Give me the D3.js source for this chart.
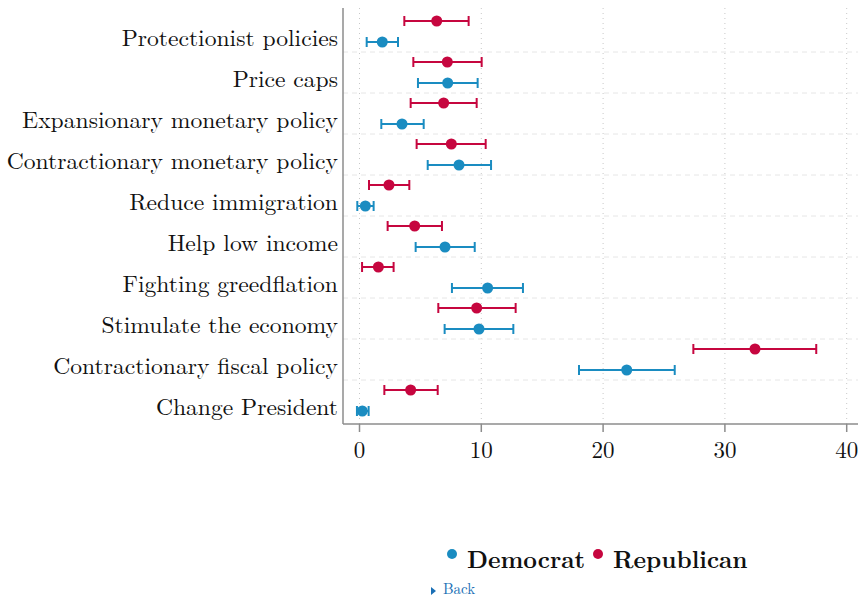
<!DOCTYPE html>
<html>
<head>
<meta charset="utf-8">
<script src="https://cdn.jsdelivr.net/npm/d3@7"></script>
<style>
  body { margin: 0; background: #fff; }
  svg { display: block; }
</style>
</head>
<body>
<div id="chart"></div>
<script>
const categories = [
    "Protectionist policies", "Price caps", "Expansionary monetary policy",
    "Contractionary monetary policy", "Reduce immigration", "Help low income",
    "Fighting greedflation", "Stimulate the economy", "Contractionary fiscal policy",
    "Change President"
];
// estimate, lower CI, upper CI
const demEst = [1.87, 7.24, 3.49, 8.17, 0.48, 7.02, 10.52, 9.81, 21.94, 0.23];
const demLo  = [0.59, 4.80, 1.79, 5.60, -0.18, 4.61, 7.59, 6.99, 18.02, -0.21];
const demHi  = [3.16, 9.70, 5.27, 10.80, 1.16, 9.46, 13.42, 12.63, 25.88, 0.75];
const repEst = [6.34, 7.21, 6.91, 7.54, 2.42, 4.53, 1.55, 9.62, 32.47, 4.20];
const repLo  = [3.68, 4.42, 4.20, 4.69, 0.78, 2.31, 0.21, 6.47, 27.41, 2.04];
const repHi  = [8.96, 10.03, 9.62, 10.36, 4.09, 6.77, 2.80, 12.82, 37.50, 6.42];
const xTicks = [0, 10, 20, 30, 40];
const seriesNames = ["Democrat", "Republican"];

const W = 861, H = 599;
const blue = "#1a8cc1", red = "#c6063f";
const serif = "'Latin Modern Roman', 'CMU Serif', 'Liberation Serif', 'DejaVu Serif', serif";

const svg = d3.select("#chart").append("svg")
    .attr("width", W).attr("height", H);

const plotLeft = 343, plotRight = 858, plotTop = 8, plotBottom = 424;

const x = d3.scaleLinear().domain([0, 40]).range([359.5, 846.7]);
const y = d3.scaleBand().domain(categories).range([11, 421]);

// vertical dotted gridlines
svg.append("g").selectAll("line")
    .data(xTicks)
    .join("line")
    .attr("x1", d => x(d)).attr("x2", d => x(d))
    .attr("y1", plotTop).attr("y2", plotBottom)
    .attr("stroke", "#c8c8c8")
    .attr("stroke-width", 1)
    .attr("stroke-dasharray", "1,4");

// horizontal dashed separators
svg.append("g").selectAll("line")
    .data(categories.slice(0, -1))
    .join("line")
    .attr("x1", plotLeft).attr("x2", plotRight)
    .attr("y1", d => y(d) + y.bandwidth()).attr("y2", d => y(d) + y.bandwidth())
    .attr("stroke", "#e6e6e6")
    .attr("stroke-width", 1)
    .attr("stroke-dasharray", "5,4");

// axes lines
svg.append("line")
    .attr("x1", plotLeft).attr("x2", plotLeft)
    .attr("y1", plotTop).attr("y2", plotBottom)
    .attr("stroke", "#8c8c8c").attr("stroke-width", 1.5);
svg.append("line")
    .attr("x1", plotLeft).attr("x2", plotRight)
    .attr("y1", plotBottom).attr("y2", plotBottom)
    .attr("stroke", "#8c8c8c").attr("stroke-width", 1.5);

// x ticks
const xt = svg.append("g").selectAll("g")
    .data(xTicks)
    .join("g")
    .attr("transform", d => `translate(${x(d)},${plotBottom})`);
xt.append("line").attr("y1", 0).attr("y2", 8)
    .attr("stroke", "#8c8c8c").attr("stroke-width", 1.5);
xt.append("text")
    .attr("y", 34)
    .attr("text-anchor", "middle")
    .attr("font-family", serif)
    .attr("font-size", 23)
    .attr("fill", "#111")
    .text(d => d);

// y labels
svg.append("g").selectAll("text")
    .data(categories)
    .join("text")
    .attr("x", 338)
    .attr("y", d => y(d) + y.bandwidth() / 2 + 14)
    .attr("text-anchor", "end")
    .attr("font-family", serif)
    .attr("font-size", 23.6)
    .attr("fill", "#111")
    .text(d => d);

const series = [
    { name: "Republican", color: red, est: repEst, lo: repLo, hi: repHi, off: -10.5 },
    { name: "Democrat", color: blue, est: demEst, lo: demLo, hi: demHi, off: 10.5 }
];

series.forEach(s => {
    const g = svg.append("g");
    const rows = categories.map((c, i) => ({ c, est: s.est[i], lo: s.lo[i], hi: s.hi[i] }));
    const cy = d => y(d.c) + y.bandwidth() / 2 + s.off;
    g.selectAll(".ci").data(rows).join("line")
        .attr("x1", d => x(d.lo)).attr("x2", d => x(d.hi))
        .attr("y1", cy).attr("y2", cy)
        .attr("stroke", s.color).attr("stroke-width", 2);
    ["lo", "hi"].forEach(k => {
        g.selectAll(".cap-" + k).data(rows).join("line")
            .attr("x1", d => x(d[k])).attr("x2", d => x(d[k]))
            .attr("y1", d => cy(d) - 5).attr("y2", d => cy(d) + 5)
            .attr("stroke", s.color).attr("stroke-width", 2);
    });
    g.selectAll("circle").data(rows).join("circle")
        .attr("cx", d => x(d.est)).attr("cy", cy)
        .attr("r", 5.5)
        .attr("fill", s.color);
});

// legend
const legend = [
    { name: seriesNames[0], color: blue, x: 452 },
    { name: seriesNames[1], color: red, x: 598 }
];
const lg = svg.append("g").selectAll("g").data(legend).join("g")
    .attr("transform", d => `translate(${d.x},0)`);
lg.append("circle").attr("cx", 0).attr("cy", 554).attr("r", 5).attr("fill", d => d.color);
lg.append("text")
    .attr("x", 15).attr("y", 568)
    .attr("font-family", serif)
    .attr("font-size", 23.8)
    .attr("font-weight", "bold")
    .attr("fill", "#111")
    .text(d => d.name);

// back link
svg.append("path")
    .attr("d", "M431,587 L436,591 L431,595 Z")
    .attr("fill", "#1a6fb5");
svg.append("text")
    .attr("x", 443).attr("y", 594)
    .attr("font-family", serif)
    .attr("font-size", 15)
    .attr("fill", "#1a6fb5")
    .text("Back");
</script>
</body>
</html>
